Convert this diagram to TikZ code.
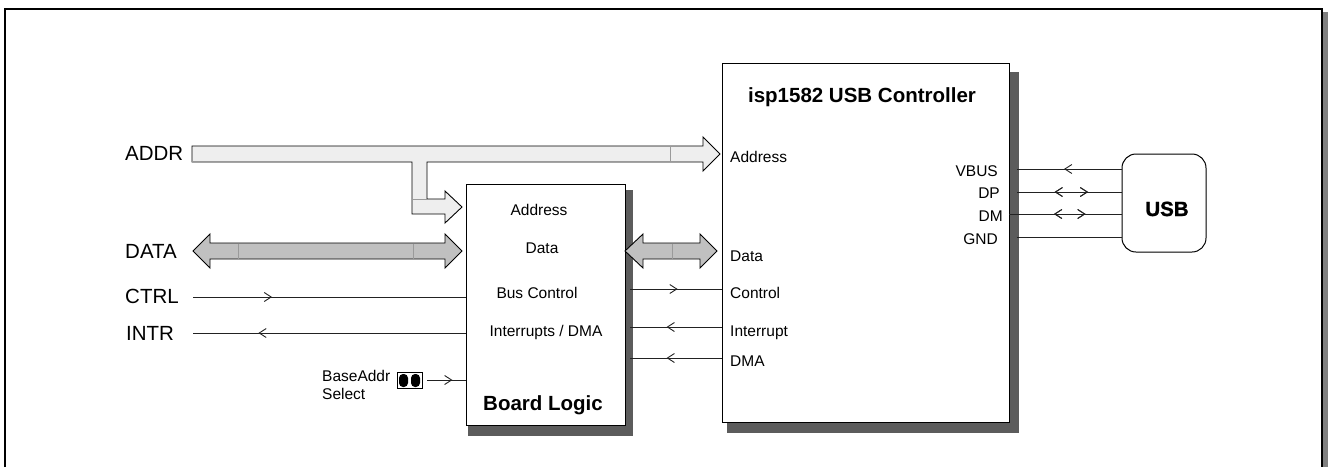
\documentclass[tikz,border=0pt]{standalone}
\usepackage{fontspec}
\setmainfont{Liberation Sans}
\newfontfamily\heavyfont[FakeBold=1.2]{Liberation Sans}
\usetikzlibrary{arrows.meta,decorations.markings}
\definecolor{addrfill}{HTML}{EEEEEE}
\definecolor{datafill}{HTML}{C0C0C0}
\definecolor{shadowc}{HTML}{5C5C5C}
\definecolor{linec}{HTML}{222222}
\definecolor{segc}{HTML}{9A9A9A}
\begin{document}
\begin{tikzpicture}[x=1pt,y=-1pt,
  txt/.style={inner sep=0pt, font=\fontsize{15.5}{19}\selectfont, anchor=base west},
  txtr/.style={inner sep=0pt, font=\fontsize{15.5}{19}\selectfont, anchor=base east},
  txtc/.style={inner sep=0pt, font=\fontsize{15.5}{19}\selectfont, anchor=base},
  bigtxt/.style={inner sep=0pt, font=\fontsize{20.5}{24}\selectfont, anchor=base west},
  titletxt/.style={inner sep=0pt, font=\fontsize{20.5}{24}\selectfont\bfseries, anchor=base},
  blockbox/.style={draw=black, line width=1pt, fill=white, inner sep=0pt},
  sig/.style={draw=linec, line width=0.9pt},
  marrow/.style={postaction={decorate}, decoration={markings, mark=at position #1 with {\arrow{Straight Barb[length=7pt,width=9pt,line width=0.9pt]}}}},
  rarrow/.style={postaction={decorate}, decoration={markings, mark=at position #1 with {\arrowreversed{Straight Barb[length=7pt,width=9pt,line width=0.9pt]}}}},
  bus/.style={draw=black, line width=0.9pt, line join=miter},
  seg/.style={draw=segc, line width=0.8pt},
]
\useasboundingbox (0,0) rectangle (1329,467);

% outer frame
\fill[gray] (1323,12) rectangle (1328,467);
\draw[line width=2.6pt] (5,467) -- (5,9) -- (1322,9) -- (1322,467);

% shadows
\fill[shadowc] (468,190) rectangle (633,436);
\fill[shadowc] (727,72) rectangle (1019,433);

% blocks
\node[blockbox, minimum width=159pt, minimum height=241pt] (board) at (545.5,304.5) {};
\node[blockbox, minimum width=287pt, minimum height=359pt] (usbc) at (865.5,242.5) {};
\node[blockbox, rounded corners=14pt, minimum width=84pt, minimum height=98pt] (usb) at (1164,203) {};

% left labels
\node[bigtxt] (addr) at (125,160) {ADDR};
\node[bigtxt] (data) at (125,258) {DATA};
\node[bigtxt] (ctrl) at (125,303) {CTRL};
\node[bigtxt] (intr) at (126,340) {INTR};

% board texts
\node[txtc] (bAddr) at (539,215) {Address};
\node[txtc] (bData) at (542,253) {Data};
\node[txtc] (bCtl) at (537,298) {Bus Control};
\node[txtc] (bInt) at (546,336) {Interrupts / DMA};
\node[titletxt] (bTitle) at (543,410) {Board Logic};

% controller texts
\node[titletxt] (cTitle) at (862,102) {isp1582 USB Controller};
\node[txt] (cAddr) at (730,162) {Address};
\node[txt] (cData) at (730,261) {Data};
\node[txt] (cCtl) at (730,298) {Control};
\node[txt] (cInt) at (730,336) {Interrupt};
\node[txt] (cDma) at (730,366) {DMA};
\node[txtr] (vbus) at (998,176) {VBUS};
\node[txtr] (dp) at (1000,198) {DP};
\node[txtr] (dm) at (1003,221) {DM};
\node[txtr] (gnd) at (998,244) {GND};
\node[titletxt, font=\fontsize{20.5}{24}\heavyfont\bfseries] (usbl) at (1167,216) {USB};

% BaseAddr select
\node[txt] (ba1) at (322,381) {BaseAddr};
\node[txt] (ba2) at (322,399) {Select};
\draw[line width=0.6pt] (397,372) rectangle (422,388);
\fill[rounded corners=4pt] (399,374) rectangle (408,387);
\fill[rounded corners=4pt] (411,374) rectangle (420,387);

% ADDR bus with branch
\draw[bus, fill=addrfill] (192,146) -- (703,146) -- (703,137) -- (720,154) -- (703,171) -- (703,162)
  -- (427,162) -- (427,199) -- (445,199) -- (445,191) -- (462,207) -- (445,223) -- (445,214)
  -- (412,214) -- (412,162) -- (192,162) -- cycle;
\draw[seg] (670,146.5) -- (670,161.5);
\draw[seg] (412.5,199) -- (426.5,199);
\draw[seg] (192,146.5) -- (192,161.5);

% DATA bus
\draw[bus, fill=datafill] (193,251) -- (210,234) -- (210,243) -- (445,243) -- (445,234) -- (462,251)
  -- (445,268) -- (445,259) -- (210,259) -- (210,268) -- cycle;
\draw[seg] (238,243.5) -- (238,258.5);
\draw[seg] (413,243.5) -- (413,258.5);

% Data between blocks
\draw[bus, fill=datafill] (625,251) -- (643,234) -- (643,243) -- (700,243) -- (700,234) -- (717,251)
  -- (700,268) -- (700,259) -- (643,259) -- (643,268) -- cycle;
\draw[seg] (672,243.5) -- (672,258.5);

% control signals left
\coordinate (ctrlS) at (193,297);
\draw[sig, marrow=0.29] (ctrlS) -- (ctrlS -| board.west);
\coordinate (intrS) at (193,333);
\draw[sig, marrow=0.76] (intrS -| board.west) -- (intrS);
\coordinate (jmp) at (427,380);
\draw[sig, marrow=0.66] (jmp) -- (jmp -| board.west);

% signals between blocks
\coordinate (ctlS) at (630,289);
\draw[sig, marrow=0.52] (ctlS) -- (ctlS -| usbc.west);
\coordinate (intS) at (630,327);
\draw[sig, marrow=0.6] (intS -| usbc.west) -- (intS);
\coordinate (dmaS) at (630,358);
\draw[sig, marrow=0.6] (dmaS -| usbc.west) -- (dmaS);

% USB lines
\coordinate (vbS) at (1017,169);
\draw[sig, marrow=0.55] (vbS -| usb.west) -- (vbS);
\coordinate (dpS) at (1017,192);
\draw[sig, marrow=0.68, rarrow=0.36] (dpS) -- (dpS -| usb.west);
\coordinate (dmS) at (1009,214);
\draw[sig, marrow=0.68, rarrow=0.40] (dmS) -- (dmS -| usb.west);
\coordinate (gnS) at (1017,237);
\draw[sig] (gnS) -- (gnS -| usb.west);
\end{tikzpicture}
\end{document}
